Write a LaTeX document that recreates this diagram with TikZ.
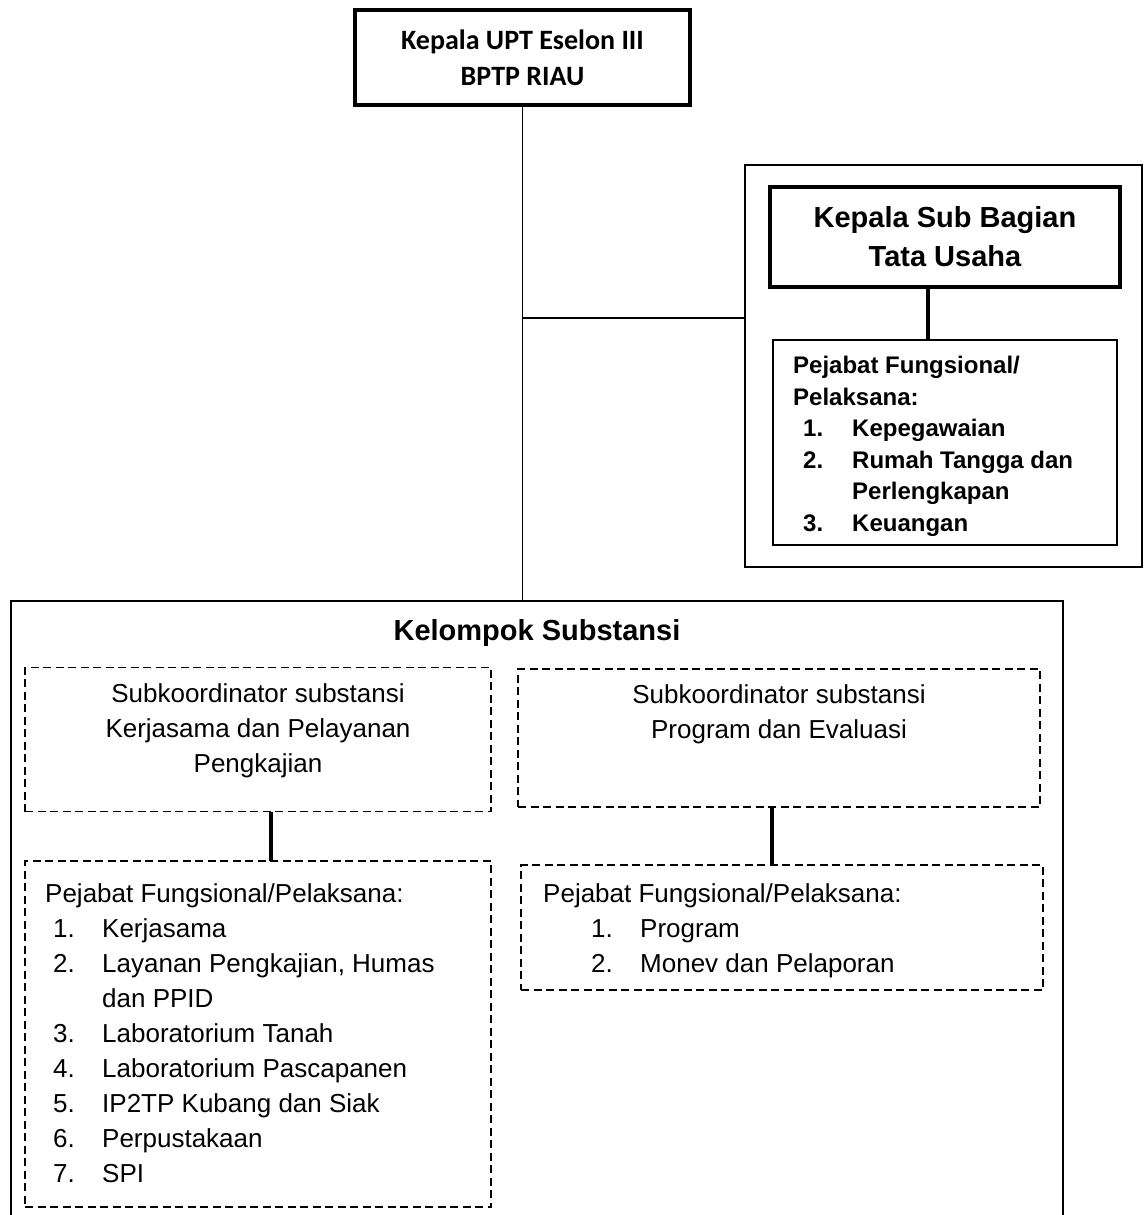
\documentclass[tikz,border=0pt]{standalone}
\usepackage{fontspec}
\setmainfont{Liberation Sans}
\newfontfamily\calibrifont{Carlito}
\usetikzlibrary{positioning}
\newcommand{\numitem}[2]{\makebox[49pt][l]{#1}#2}

\tikzset{
    headbox/.style={draw, line width=3.5pt, inner sep=0pt, outer sep=0pt, align=center},
    framebox/.style={draw, line width=1.5pt, inner sep=0pt, outer sep=0pt},
    dashbox/.style={draw, line width=1.5pt, dash pattern=on 8pt off 4.5pt, inner sep=0pt, outer sep=0pt},
    boxtext/.style={inner sep=0pt, align=center, font=\fontsize{26}{35}\selectfont},
    listtext/.style={anchor=north west, inner sep=0pt, align=left, font=\fontsize{26}{35}\selectfont},
    link/.style={line width=1.5pt},
    thicklink/.style={line width=4pt},
}

\begin{document}
\begin{tikzpicture}[x=1pt,y=-1pt]
    \useasboundingbox (0,0) rectangle (1144,1215);
    \clip (0,0) rectangle (1144,1215);

    \node[headbox, minimum width=335pt, minimum height=95pt,
        font=\calibrifont\bfseries\fontsize{28}{36}\selectfont] (kepala) at (522.5,57.5)
        {Kepala UPT Eselon III\\BPTP RIAU};

    % tata usaha
    \node[framebox, minimum width=397pt, minimum height=402pt] (tu) at (943.5,366) {};
    \node[headbox, minimum width=350pt, minimum height=100pt,
        font=\bfseries\fontsize{29}{39}\selectfont] (kasubag) at (945,237)
        {Kepala Sub Bagian\\Tata Usaha};
    \node[framebox, line width=2pt, minimum width=344pt, minimum height=205pt] (tustaff) at (945,442.5) {};
    \node[listtext, font=\bfseries\fontsize{24}{31.5}\selectfont] (tulist) at (793,356)
        {Pejabat Fungsional/\\Pelaksana:\\
        \hspace*{10pt}\numitem{1.}{Kepegawaian}\\
        \hspace*{10pt}\numitem{2.}{Rumah Tangga dan}\\
        \hspace*{59pt}Perlengkapan\\
        \hspace*{10pt}\numitem{3.}{Keuangan}};

    % kelompok substansi
    \node[framebox, line width=2pt, minimum width=1052pt, minimum height=660pt] (kelompok) at (537,931) {};
    \node[inner sep=0pt, font=\bfseries\fontsize{29}{35}\selectfont] (kstitle) at (537,633) {Kelompok Substansi};

    \node[dashbox, minimum width=466pt, minimum height=144pt] (kpp) at (258,739.5) {};
    \node[boxtext] (kpptext) at (258,731)
        {Subkoordinator substansi\\Kerjasama dan Pelayanan\\Pengkajian};
    \node[dashbox, minimum width=466pt, minimum height=346pt] (kppstaff) at (258,1034) {};
    \node[listtext] (kpplist) at (45,883)
        {Pejabat Fungsional/Pelaksana:\\
        \hspace*{8pt}\numitem{1.}{Kerjasama}\\
        \hspace*{8pt}\numitem{2.}{Layanan Pengkajian, Humas}\\
        \hspace*{57pt}dan PPID\\
        \hspace*{8pt}\numitem{3.}{Laboratorium Tanah}\\
        \hspace*{8pt}\numitem{4.}{Laboratorium Pascapanen}\\
        \hspace*{8pt}\numitem{5.}{IP2TP Kubang dan Siak}\\
        \hspace*{8pt}\numitem{6.}{Perpustakaan}\\
        \hspace*{8pt}\numitem{7.}{SPI}};

    \node[dashbox, minimum width=522pt, minimum height=138pt] (pe) at (779,738) {};
    \node[boxtext] (petext) at (779,714)
        {Subkoordinator substansi\\Program dan Evaluasi};
    \node[dashbox, minimum width=522pt, minimum height=125pt] (pestaff) at (782,927.5) {};
    \node[listtext] (pelist) at (543,883)
        {Pejabat Fungsional/Pelaksana:\\
        \hspace*{48pt}\numitem{1.}{Program}\\
        \hspace*{48pt}\numitem{2.}{Monev dan Pelaporan}};

    % garis
    \draw[link] (kepala.south) -- (kepala.south |- kelompok.north);
    \path (kepala.south) ++(0,213) coordinate (tujoint);
    \draw[link] (tujoint) -- (tujoint -| tu.west);
    \draw[thicklink] ([xshift=-17pt]kasubag.south) -- ([xshift=-17pt]kasubag.south |- tustaff.north);
    \draw[thicklink] ([xshift=13pt]kpp.south) -- ([xshift=13pt]kpp.south |- kppstaff.north);
    \draw[thicklink] ([xshift=-7pt]pe.south) -- ([xshift=-7pt]pe.south |- pestaff.north);
\end{tikzpicture}
\end{document}
